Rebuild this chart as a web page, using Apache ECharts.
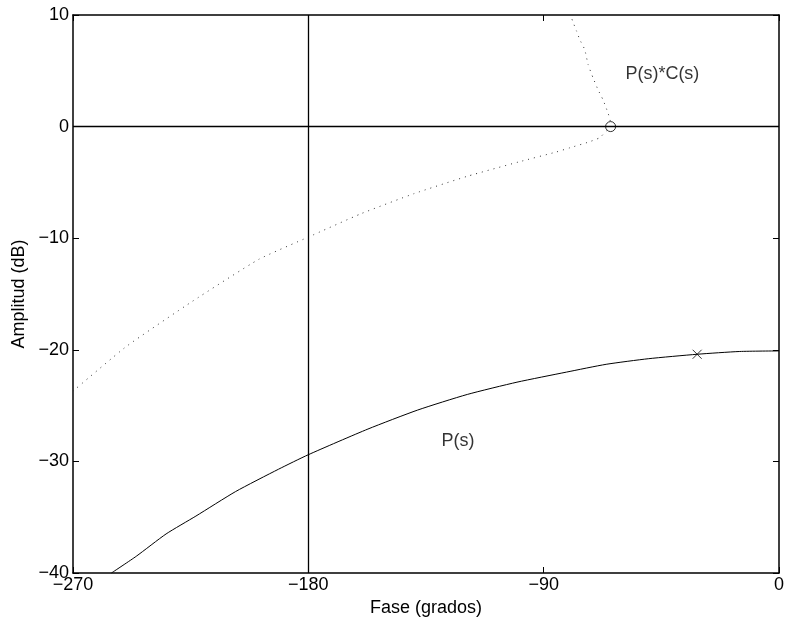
<!DOCTYPE html>
<html>
<head>
<meta charset="utf-8">
<script src="https://cdn.jsdelivr.net/npm/echarts@6/dist/echarts.min.js"></script>
<style>html,body{margin:0;padding:0;background:#fff}#c{width:787px;height:624px}</style>
</head>
<body>
<div id="c"></div>
<script>
// Phase (degrees) and amplitude (dB)
const plantPhase = [-255.3, -245.8, -234.4, -223.0, -207.8, -191.4, -180.0, -157.2, -138.2, -119.2, -100.2, -81.3, -66.1, -50.0, -31.3, -15.0, 0.0];
const plantGain  = [-40.0, -38.5, -36.5, -34.9, -32.7, -30.7, -29.4, -27.1, -25.4, -24.0, -22.9, -22.0, -21.3, -20.8, -20.4, -20.15, -20.1];

const loopPhase = [-270.0, -249.6, -224.3, -199.0, -180.0, -159.8, -139.5, -119.2, -99.6, -85.1, -80.0, -73.0, -68.6, -66.1, -64.4, -64.6, -65.4, -67.3, -69.2, -71.1, -73.0, -74.3, -76.2, -77.4, -78.9, -79.7];
const loopGain  = [-23.7, -19.7, -15.65, -11.9, -9.9, -7.8, -6.0, -4.45, -3.17, -2.27, -1.9, -1.4, -1.0, -0.4, 0.0, 0.6, 1.23, 2.4, 3.3, 4.36, 5.56, 6.9, 7.8, 8.54, 9.44, 10.0];

const loopMarker = [-64.4, 0.0];
const plantMarker = [-31.3, -20.4];

const xTicks = [-270, -180, -90, 0];
const yTicks = [-40, -30, -20, -10, 0, 10];

const labels = [
  {text: 'P(s)*C(s)', pos: [-44.6, 4.75]},
  {text: 'P(s)', pos: [-122.8, -28.2]}
];

const fontFam = '"Liberation Sans", Arial, sans-serif';
const fs = 18;
const fmt = v => String(v).replace('-', '\u2212');

const zip = (a, b) => a.map((v, i) => [v, b[i]]);

const chart = echarts.init(document.getElementById('c'));
const axisCommon = {
  type: 'value',
  axisLine: {show: true, onZero: false, lineStyle: {color: '#000', width: 1.5}},
  axisTick: {show: true, inside: true, length: 6, lineStyle: {color: '#000', width: 1}},
  splitLine: {show: false}
};
chart.setOption({
  animation: false,
  backgroundColor: '#fff',
  grid: {left: 73, right: 3, top: 15, bottom: 51, show: false},
  xAxis: [
    Object.assign({}, axisCommon, {
      min: xTicks[0], max: xTicks[xTicks.length - 1], interval: 90, position: 'bottom',
      name: 'Fase (grados)', nameLocation: 'middle', nameGap: 24,
      nameTextStyle: {color: '#000', fontSize: fs, fontFamily: fontFam},
      axisLabel: {color: '#000', fontSize: fs, fontFamily: fontFam, margin: 3, formatter: fmt, showMaxLabel: true, showMinLabel: true}
    }),
    Object.assign({}, axisCommon, {
      min: xTicks[0], max: xTicks[xTicks.length - 1], interval: 90, position: 'top',
      axisLabel: {show: false}
    })
  ],
  yAxis: [
    Object.assign({}, axisCommon, {
      min: yTicks[0], max: yTicks[yTicks.length - 1], interval: 10, position: 'left',
      name: 'Amplitud (dB)', nameLocation: 'middle', nameGap: 42, nameRotate: 90,
      nameTextStyle: {color: '#000', fontSize: fs, fontFamily: fontFam},
      axisLabel: {color: '#000', fontSize: fs, fontFamily: fontFam, margin: 4, formatter: fmt}
    }),
    Object.assign({}, axisCommon, {
      min: yTicks[0], max: yTicks[yTicks.length - 1], interval: 10, position: 'right',
      axisLabel: {show: false}
    })
  ],
  series: [
    {
      type: 'line', data: zip(plantPhase, plantGain), showSymbol: false, smooth: 0.2,
      lineStyle: {color: '#000', width: 1}, z: 3,
      markLine: {
        silent: true, symbol: 'none', label: {show: false},
        lineStyle: {color: '#000', type: 'solid', width: 1.3},
        data: [{xAxis: -180}, {yAxis: 0}]
      }
    },
    {
      type: 'line', data: zip(loopPhase, loopGain), showSymbol: false, smooth: 0.15,
      lineStyle: {color: '#333', width: 1, type: [1, 5]}, z: 3
    },
    {
      type: 'scatter', data: [loopMarker], symbol: 'circle', symbolSize: 10,
      itemStyle: {color: 'rgba(255,255,255,0)', borderColor: '#000', borderWidth: 1}, z: 5
    },
    {
      type: 'scatter', data: [plantMarker], symbol: 'path://M0,0L10,10M10,0L0,10', symbolSize: 9,
      itemStyle: {color: 'none', borderColor: '#000', borderWidth: 1}, z: 5
    },
    {
      type: 'scatter', data: labels.map(l => ({value: l.pos, name: l.text})), symbolSize: 0,
      label: {show: true, position: 'inside', formatter: p => p.name, color: '#000', fontSize: fs, fontFamily: fontFam},
      z: 6
    }
  ]
});
</script>
</body>
</html>
